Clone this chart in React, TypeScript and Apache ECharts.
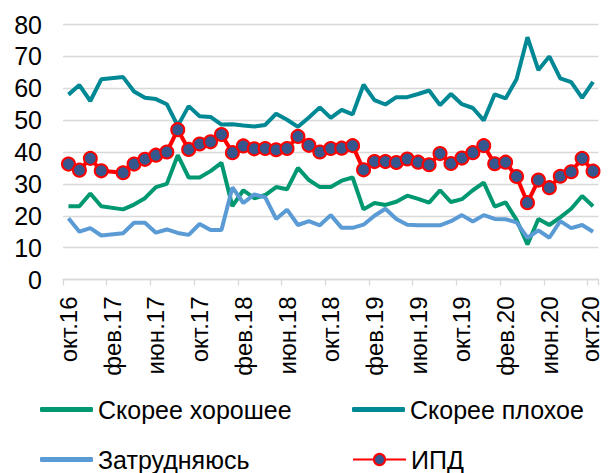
import React, { useEffect, useRef } from "react";
import * as echarts from "echarts";

const months = ["янв", "фев", "мар", "апр", "май", "июн", "июл", "авг", "сен", "окт", "ноя", "дек"];
const categories: string[] = [];
for (let k = 0; k < 49; k++) {
  const m = (9 + k) % 12;
  const y = 16 + Math.floor((9 + k) / 12);
  categories.push(months[m] + "." + y);
}

const good = [23, 23, 27, 23, null, 22, 23.5, 25.5, 29, 30, 39, 32, 32, 34, 36.6, 23, 28, 25.5, 26.5, 29, 28.3, 35, 31.2, 29, 29, 31, 32, 22, 24, 23.4, 24.4, 26.3, 25.3, 24.1, 28, 24.3, 25.2, 28, 30.4, 22.9, 24.2, 18.7, 11, 19, 17.1, 19.5, 22.2, 26.2, 23];
const bad = [58, 61, 56, 62.8, null, 63.5, 59, 57, 56.6, 55, 48.2, 54.4, 51.2, 51, 48.6, 48.7, 48.3, 48, 48.5, 52, 50.1, 47.9, 50.8, 54, 50.7, 53.2, 51.8, 61.1, 56.3, 54.9, 57.2, 57.2, 58.2, 59.3, 54.7, 58.2, 55, 53.8, 49.9, 58.1, 56.8, 62.8, 76, 65.7, 70, 63.1, 61.9, 57, 62];
const unsure = [19.2, 15, 16.1, 13.8, null, 14.5, 17.8, 17.8, 14.7, 15.7, 14.6, 14, 17.4, 15.5, 15.5, 28.9, 24, 26.7, 25.8, 19, 21.9, 17.1, 18.3, 17, 20.2, 16.2, 16.2, 17.2, 20, 22.2, 19, 17.2, 17, 17, 17, 18.3, 20.2, 18.2, 20.2, 19, 18.9, 17.9, 13.1, 15.4, 13.1, 18.3, 16.1, 17.1, 15];
const ipd = [36.2, 34.3, 38, 34.1, null, 33.5, 36.2, 37.7, 39, 40, 47, 40.8, 42.5, 43.2, 45.5, 39.8, 41.9, 41, 41.1, 40.7, 41.1, 44.9, 42.1, 40, 41.1, 41.2, 42, 34.4, 37, 37, 36.7, 37.8, 36.8, 36, 39.5, 36.4, 38.1, 39.8, 42, 36.3, 36.8, 32.3, 24.1, 31.2, 28.8, 32.4, 33.8, 38, 34];

const FONT = "Liberation Sans, Arial, sans-serif";

export default function App() {
  const ref = useRef<HTMLDivElement>(null);
  useEffect(() => {
    if (!ref.current) return;
    const chart = echarts.init(ref.current, null, { renderer: "svg" });
    const legendBase = {
      itemWidth: 53,
      itemGap: 0,
      padding: 0,
      textStyle: { fontSize: 25, color: "#000", fontFamily: FONT },
    };
    const lastIdx = categories.length - 1;
    chart.setOption({
      animation: false,
      grid: { left: 63, right: 5, top: 24.5, bottom: 193.5, containLabel: false },
      legend: [
        { ...legendBase, itemHeight: 5, data: [{ name: "Скорее хорошее", icon: "roundRect" }], left: 40, top: 397 },
        { ...legendBase, itemHeight: 5, data: [{ name: "Скорее плохое", icon: "roundRect" }], left: 352, top: 397 },
        { ...legendBase, itemHeight: 5, data: [{ name: "Затрудняюсь", icon: "roundRect" }], left: 40, top: 447 },
        { ...legendBase, itemHeight: 14, data: ["ИПД"], left: 352, top: 447 },
      ],
      xAxis: {
        type: "category",
        data: categories,
        boundaryGap: true,
        axisLine: { lineStyle: { color: "#d9d9d9", width: 1.3 } },
        axisTick: { show: true, interval: 3, length: 6, lineStyle: { color: "#d9d9d9", width: 1.3 } },
        axisLabel: {
          interval: 3,
          rotate: 90,
          margin: 17,
          fontSize: 24,
          lineHeight: 18,
          color: "#000",
          fontFamily: FONT,
          formatter: (v: string, i: number) => (i === lastIdx ? "{e|" + v + "}" : v),
          rich: {
            e: { fontSize: 24, lineHeight: 18, color: "#000", fontFamily: FONT, padding: [0, 0, 6, 0] },
          },
        },
      },
      yAxis: {
        type: "value",
        min: 0,
        max: 80,
        interval: 10,
        axisLine: { show: false },
        axisTick: { show: false },
        splitLine: { lineStyle: { color: "#d9d9d9", width: 1.3 } },
        axisLabel: { fontSize: 25, color: "#000", margin: 21, fontFamily: FONT },
      },
      series: [
        {
          name: "Скорее хорошее",
          type: "line",
          data: good,
          connectNulls: true,
          symbol: "none",
          color: "#009871",
          lineStyle: { width: 4, color: "#009871" },
        },
        {
          name: "Скорее плохое",
          type: "line",
          data: bad,
          connectNulls: true,
          symbol: "none",
          color: "#008894",
          lineStyle: { width: 4, color: "#008894" },
        },
        {
          name: "Затрудняюсь",
          type: "line",
          data: unsure,
          connectNulls: true,
          symbol: "none",
          color: "#5B9BD5",
          lineStyle: { width: 4, color: "#5B9BD5" },
        },
        {
          name: "ИПД",
          type: "line",
          data: ipd,
          connectNulls: true,
          symbol: "circle",
          symbolSize: 13,
          showAllSymbol: true,
          itemStyle: { color: "#36578D", borderColor: "#FF0000", borderWidth: 2 },
          lineStyle: { width: 4, color: "#FF0000" },
        },
      ],
    });
    return () => chart.dispose();
  }, []);
  return <div ref={ref} style={{ width: 608, height: 473, position: "absolute", left: 0, top: 0 }} />;
}
